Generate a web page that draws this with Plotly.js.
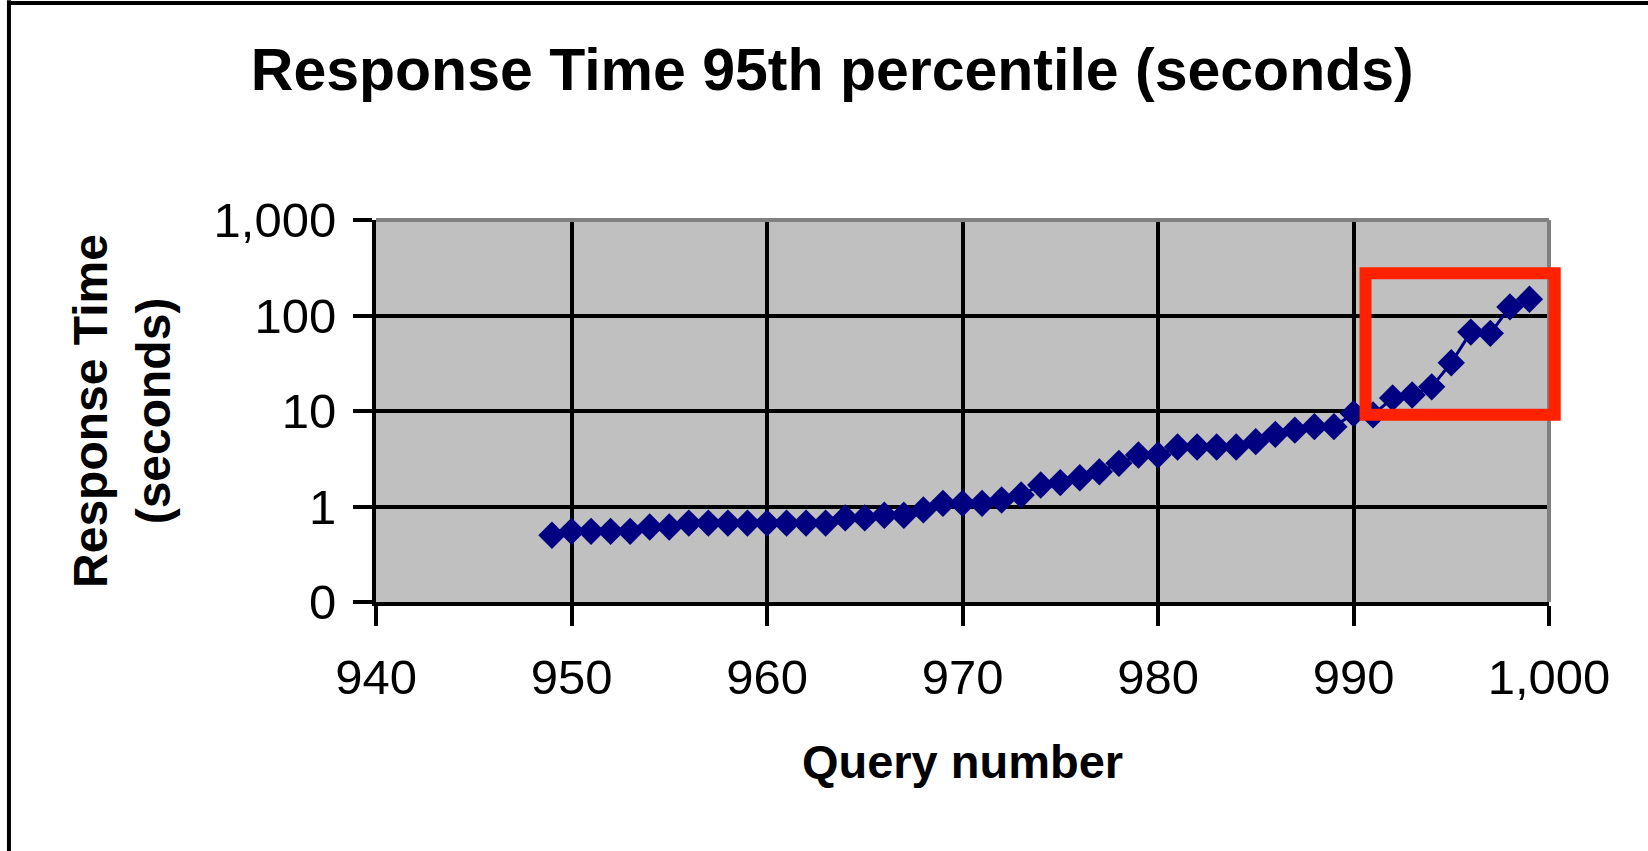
<!DOCTYPE html>
<html>
<head>
<meta charset="utf-8">
<script src="https://cdn.plot.ly/plotly-3.0.1.min.js"></script>
<style>
  html, body { margin: 0; padding: 0; background: #ffffff; }
  #chart { width: 1648px; height: 851px; }
</style>
</head>
<body>
<div id="chart"></div>
<script>
// Query numbers
const queryNumbers = [
  949, 950, 951, 952, 953, 954, 955, 956, 957, 958,
  959, 960, 961, 962, 963, 964, 965, 966, 967, 968,
  969, 970, 971, 972, 973, 974, 975, 976, 977, 978,
  979, 980, 981, 982, 983, 984, 985, 986, 987, 988,
  989, 990, 991, 992, 993, 994, 995, 996, 997, 998,
  999
];
// Response time 95th percentile (seconds)
const responseTimes = [
  0.50, 0.55, 0.55, 0.55, 0.55, 0.61, 0.61, 0.67, 0.67, 0.67,
  0.67, 0.67, 0.67, 0.67, 0.67, 0.76, 0.76, 0.81, 0.81, 0.92,
  1.08, 1.08, 1.08, 1.17, 1.32, 1.68, 1.78, 2.0, 2.31, 2.83,
  3.46, 3.46, 4.2, 4.2, 4.2, 4.2, 4.77, 5.7, 6.3, 6.85,
  6.85, 9.4, 9.1, 13.7, 14.7, 17.9, 32, 67, 65, 123,
  148
];
const xTickVals = [940, 950, 960, 970, 980, 990, 1000];
const xTickText = ['940', '950', '960', '970', '980', '990', '1,000'];
const yTickVals = [0.1, 1, 10, 100, 1000];
const yTickText = ['0', '1', '10', '100', '1,000'];

const FONT = 'Liberation Sans, Arial, Helvetica, sans-serif';

const trace = {
  x: queryNumbers,
  y: responseTimes,
  type: 'scatter',
  mode: 'lines+markers',
  line: { color: '#000080', width: 3 },
  marker: { symbol: 'diamond', size: 21, color: '#000080' },
  hoverinfo: 'x+y',
  showlegend: false
};

const layout = {
  width: 1648,
  height: 851,
  margin: { l: 376, r: 99, t: 220, b: 249, pad: 0 },
  paper_bgcolor: '#ffffff',
  plot_bgcolor: '#c0c0c0',
  font: { family: FONT, color: '#000000' },
  title: {
    text: '<b>Response Time 95th percentile (seconds)</b>',
    font: { family: FONT, size: 59, color: '#000000' },
    xref: 'container', x: 0.505, xanchor: 'center',
    yref: 'container', y: 0.918, yanchor: 'middle'
  },
  xaxis: {
    range: [940, 1000],
    tickvals: xTickVals,
    ticktext: xTickText,
    ticks: 'outside',
    ticklen: 20,
    tickwidth: 3.5,
    tickcolor: '#000000',
    ticklabelstandoff: 9,
    tickfont: { family: FONT, size: 49, color: '#000000' },
    showgrid: true,
    gridcolor: '#000000',
    gridwidth: 3.5,
    showline: true,
    linecolor: '#000000',
    linewidth: 4,
    zeroline: false,
    automargin: false,
    title: {
      text: '<b>Query number</b>',
      font: { family: FONT, size: 47, color: '#000000' },
      standoff: 43
    }
  },
  yaxis: {
    type: 'log',
    range: [-1, 3],
    tickvals: yTickVals,
    ticktext: yTickText,
    ticks: 'outside',
    ticklen: 19,
    tickwidth: 3.5,
    tickcolor: '#000000',
    ticklabelstandoff: 7,
    tickfont: { family: FONT, size: 49, color: '#000000' },
    showgrid: true,
    gridcolor: '#000000',
    gridwidth: 3.5,
    showline: true,
    linecolor: '#000000',
    linewidth: 4,
    zeroline: false,
    automargin: false,
    title: {
      text: '<b>Response Time<br>(seconds)</b>',
      font: { family: FONT, size: 48, color: '#000000' },
      standoff: 29
    }
  },
  shapes: [
    // gray top and right edges of the plot area
    { type: 'line', xref: 'paper', yref: 'paper', x0: 0, x1: 1, y0: 1, y1: 1,
      line: { color: '#808080', width: 4 }, layer: 'above' },
    { type: 'line', xref: 'paper', yref: 'paper', x0: 1, x1: 1, y0: 0, y1: 1,
      line: { color: '#808080', width: 4 }, layer: 'above' },
    // highlight rectangle
    { type: 'rect', xref: 'paper', yref: 'paper',
      x0: 0.8436, x1: 1.0049, y0: 0.4903, y1: 0.8605,
      line: { color: '#ff2200', width: 12 }, fillcolor: 'rgba(0,0,0,0)', layer: 'above' },
    // outer frame (top and left edges)
    { type: 'line', xref: 'paper', yref: 'paper', x0: -0.3129, x1: 1.09, y0: 1.568, y1: 1.568,
      line: { color: '#000000', width: 4 }, layer: 'above' },
    { type: 'line', xref: 'paper', yref: 'paper', x0: -0.3129, x1: -0.3129, y0: -0.66, y1: 1.575,
      line: { color: '#000000', width: 4 }, layer: 'above' }
  ]
};

Plotly.newPlot('chart', [trace], layout, { displayModeBar: false, responsive: false });
</script>
</body>
</html>
